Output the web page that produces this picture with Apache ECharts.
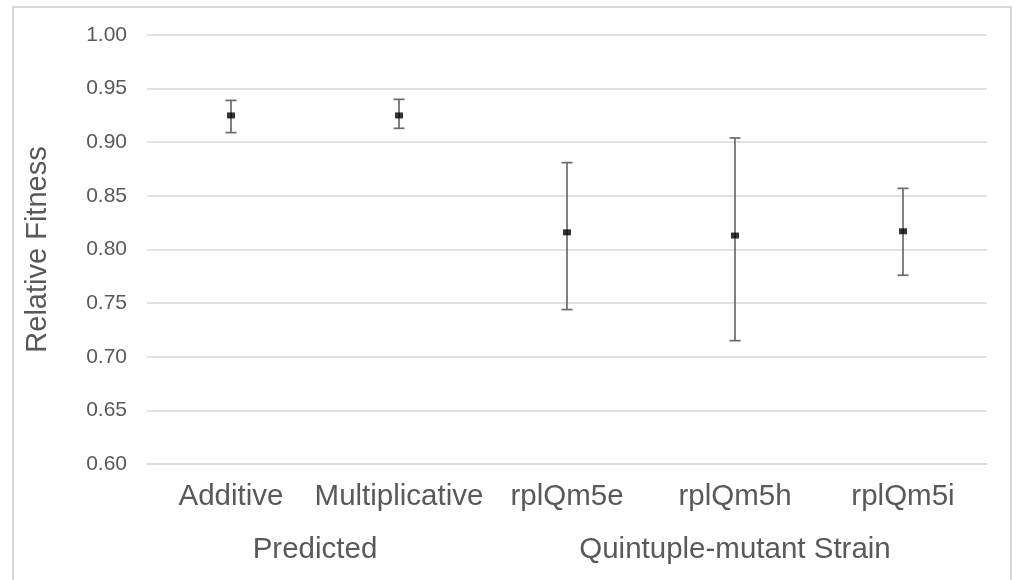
<!DOCTYPE html>
<html>
<head>
<meta charset="utf-8">
<script src="https://cdn.jsdelivr.net/npm/echarts@6/dist/echarts.min.js"></script>
<style>
html,body{margin:0;padding:0;background:#fff;}
#c{width:1014px;height:580px;}
</style>
</head>
<body>
<div id="c"></div>
<script>
var categories = ['Additive', 'Multiplicative', 'rplQm5e', 'rplQm5h', 'rplQm5i'];
var meanValues = [0.925, 0.925, 0.816, 0.813, 0.817];
var upperValues = [0.939, 0.940, 0.881, 0.904, 0.857];
var lowerValues = [0.909, 0.913, 0.744, 0.715, 0.776];
var groupNames = ['Predicted', 'Quintuple-mutant Strain'];
var groupCenters = [1, 3.5];
var yTicks = [0.60, 0.65, 0.70, 0.75, 0.80, 0.85, 0.90, 0.95, 1.00];

var textColor = '#595959';
var font = '"Liberation Sans", Arial, sans-serif';

var errData = categories.map(function (c, i) { return [i, lowerValues[i], upperValues[i]]; });

var chart = echarts.init(document.getElementById('c'));
chart.setOption({
  animation: false,
  backgroundColor: '#fff',
  graphic: [{
    type: 'rect', silent: true,
    shape: { x: 13, y: 7, width: 998, height: 620 },
    style: { fill: 'none', stroke: '#d9d9d9', lineWidth: 2 }
  }],
  grid: { left: 147, right: 27, top: 35, bottom: 116 },
  xAxis: [{
    type: 'category',
    data: categories,
    axisLine: { show: true, lineStyle: { color: '#d9d9d9', width: 1.5 } },
    axisTick: { show: false },
    axisLabel: { color: textColor, fontSize: 29.5, fontFamily: font, margin: 18, interval: 0 }
  }, {
    type: 'value',
    min: 0, max: 5,
    position: 'bottom',
    offset: 53,
    axisLine: { show: false },
    axisTick: { show: false },
    splitLine: { show: false },
    axisLabel: {
      show: true,
      customValues: groupCenters,
      color: textColor, fontSize: 29.5, fontFamily: font, margin: 18,
      formatter: function (v) {
        var idx = groupCenters.indexOf(v);
        return idx >= 0 ? groupNames[idx] : '';
      }
    }
  }],
  yAxis: {
    type: 'value',
    min: 0.6, max: 1.0, interval: 0.05,
    name: 'Relative Fitness',
    nameLocation: 'middle',
    nameGap: 95,
    nameTextStyle: { color: textColor, fontSize: 29, fontFamily: font },
    axisLine: { show: false },
    axisTick: { show: false },
    axisLabel: {
      color: textColor, fontSize: 21, fontFamily: font, margin: 20,
      customValues: yTicks,
      formatter: function (v) { return v.toFixed(2); }
    },
    splitLine: { lineStyle: { color: '#d9d9d9', width: 1.5 } }
  },
  series: [{
    type: 'custom',
    xAxisIndex: 0,
    data: errData,
    renderItem: function (params, api) {
      var x = api.value(0);
      var lo = api.coord([x, api.value(1)]);
      var hi = api.coord([x, api.value(2)]);
      var half = 5.5;
      var st = { stroke: '#6b6b6b', lineWidth: 1.7 };
      return {
        type: 'group',
        children: [
          { type: 'line', shape: { x1: hi[0], y1: hi[1], x2: lo[0], y2: lo[1] }, style: st },
          { type: 'line', shape: { x1: hi[0] - half, y1: hi[1], x2: hi[0] + half, y2: hi[1] }, style: st },
          { type: 'line', shape: { x1: lo[0] - half, y1: lo[1], x2: lo[0] + half, y2: lo[1] }, style: st }
        ]
      };
    },
    z: 2
  }, {
    type: 'scatter',
    xAxisIndex: 0,
    data: meanValues,
    symbol: 'rect',
    symbolSize: [8, 6],
    itemStyle: { color: '#000' },
    z: 3
  }]
});
</script>
</body>
</html>
